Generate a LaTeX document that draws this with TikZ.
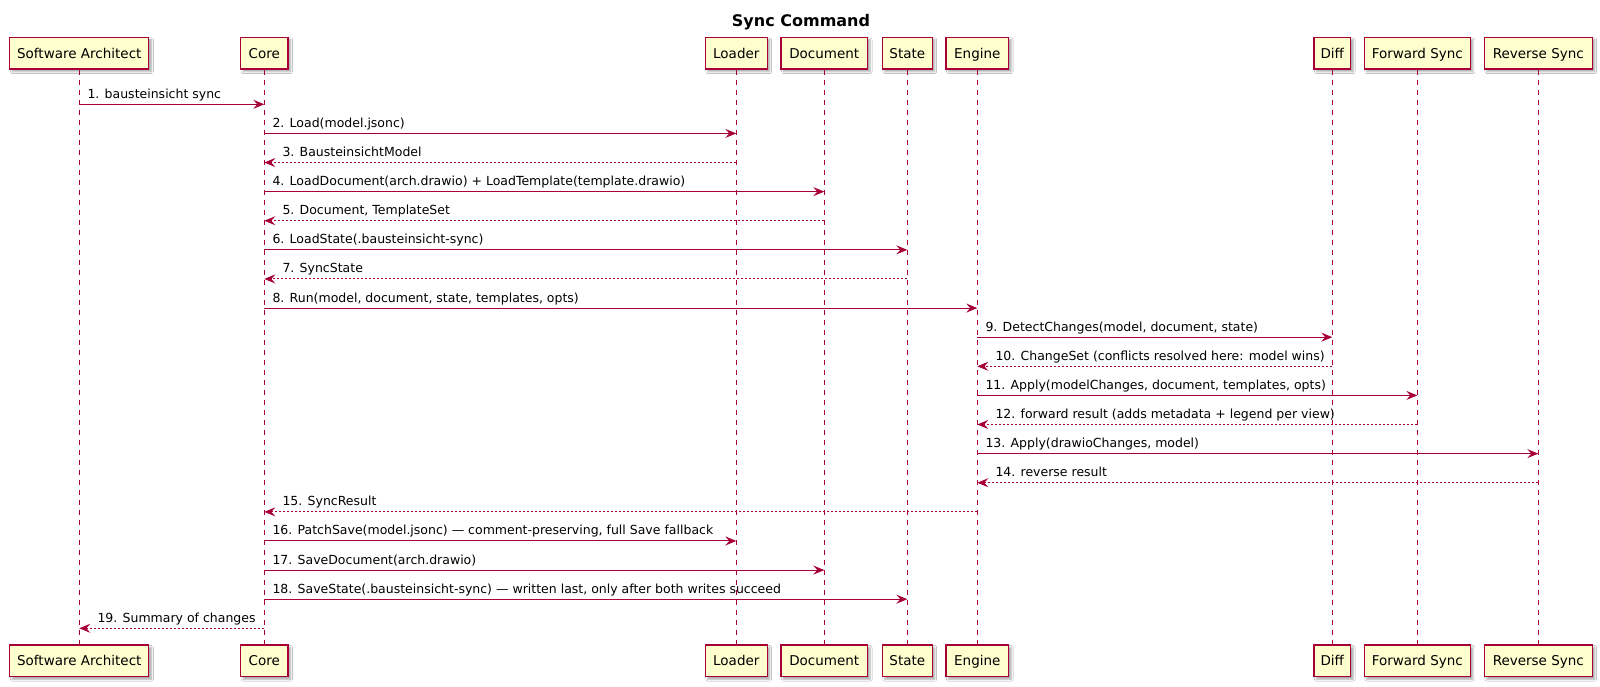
\documentclass[tikz,border=0pt]{standalone}
\usepackage{fontspec}
\setmainfont{DejaVu Sans}
\usetikzlibrary{arrows.meta,calc,shadows.blur}
\definecolor{puml}{HTML}{A80036}
\definecolor{pumlfill}{HTML}{FEFECE}
\tikzset{
  partbox/.style={draw=puml, line width=1.3pt, fill=pumlfill, inner sep=0pt,
    minimum height=31.7pt, text height=9.9pt, text depth=0pt,
    font=\fontsize{13.5}{16}\selectfont,
    blur shadow={shadow xshift=2.5pt, shadow yshift=-2.5pt, shadow blur radius=2pt, shadow opacity=35}},
  lifeline/.style={draw=puml, line width=1pt, dash pattern=on 5pt off 5pt},
  msgline/.style={draw=puml, line width=1pt, -{Stealth[length=11pt,width=9pt,inset=4pt]}},
  retline/.style={msgline, dash pattern=on 2pt off 2pt},
  msglabel/.style={anchor=base west, inner sep=0pt, font=\fontsize{12.5}{15}\selectfont},
  titlelabel/.style={anchor=base, inner sep=0pt, font=\fontsize{16}{18}\selectfont\bfseries}
}
\newcommand\callmsg[5]{% name from to k label
  \pgfmathsetmacro\my{104.3+(#4-1)*29.11}
  \draw[msgline] (#2 |- 0,\my) -- (#3 |- 0,\my);
  \node[msglabel] (#1) at ($(#2 |- 0,\my)+(8,-6)$) {#5};
}
\newcommand\retmsg[5]{% name from to k label
  \pgfmathsetmacro\my{104.3+(#4-1)*29.11}
  \draw[retline] (#2 |- 0,\my) -- (#3 |- 0,\my);
  \node[msglabel] (#1) at ($(#3 |- 0,\my)+(18,-6)$) {#5};
}
\begin{document}
\begin{tikzpicture}[x=1pt,y=-1pt]
\fill[white] (0,0) rectangle (1600,686);
\useasboundingbox (0,0) rectangle (1600,686);

\node[titlelabel] (title) at (801,26.7) {Sync Command};

% participants: name, x, width, label
\foreach \n/\x/\w/\t in {arch/79.3/139/Software Architect, core/264.3/47.3/Core,
  loader/736.3/61.7/Loader, document/824.3/86.4/Document, state/907.3/49.7/State,
  engine/977.3/62.7/Engine, diff/1332.3/36.6/Diff, fwd/1417.3/106/Forward Sync,
  rev/1538.3/107.7/Reverse Sync}{
  \node[partbox, minimum width=\w pt] (\n_t) at (\x,53.15) {\t};
  \node[partbox, minimum width=\w pt] (\n_b) at (\x,660.85) {\t};
}
\foreach \n in {arch,core,loader,document,state,engine,diff,fwd,rev}{
  \draw[lifeline] (\n_t.south) -- (\n_b.north);
}

\callmsg{m1}{arch_t}{core_t}{1}{1. bausteinsicht sync}
\callmsg{m2}{core_t}{loader_t}{2}{2. Load(model.jsonc)}
\retmsg{m3}{loader_t}{core_t}{3}{3. BausteinsichtModel}
\callmsg{m4}{core_t}{document_t}{4}{4. LoadDocument(arch.drawio) + LoadTemplate(template.drawio)}
\retmsg{m5}{document_t}{core_t}{5}{5. Document, TemplateSet}
\callmsg{m6}{core_t}{state_t}{6}{6. LoadState(.bausteinsicht-sync)}
\retmsg{m7}{state_t}{core_t}{7}{7. SyncState}
\callmsg{m8}{core_t}{engine_t}{8}{8. Run(model, document, state, templates, opts)}
\callmsg{m9}{engine_t}{diff_t}{9}{9. DetectChanges(model, document, state)}
\retmsg{m10}{diff_t}{engine_t}{10}{10. ChangeSet (conflicts resolved here: model wins)}
\callmsg{m11}{engine_t}{fwd_t}{11}{11. Apply(modelChanges, document, templates, opts)}
\retmsg{m12}{fwd_t}{engine_t}{12}{12. forward result (adds metadata + legend per view)}
\callmsg{m13}{engine_t}{rev_t}{13}{13. Apply(drawioChanges, model)}
\retmsg{m14}{rev_t}{engine_t}{14}{14. reverse result}
\retmsg{m15}{engine_t}{core_t}{15}{15. SyncResult}
\callmsg{m16}{core_t}{loader_t}{16}{16. PatchSave(model.jsonc) — comment-preserving, full Save fallback}
\callmsg{m17}{core_t}{document_t}{17}{17. SaveDocument(arch.drawio)}
\callmsg{m18}{core_t}{state_t}{18}{18. SaveState(.bausteinsicht-sync) — written last, only after both writes succeed}
\retmsg{m19}{core_t}{arch_t}{19}{19. Summary of changes}
\end{tikzpicture}
\end{document}
